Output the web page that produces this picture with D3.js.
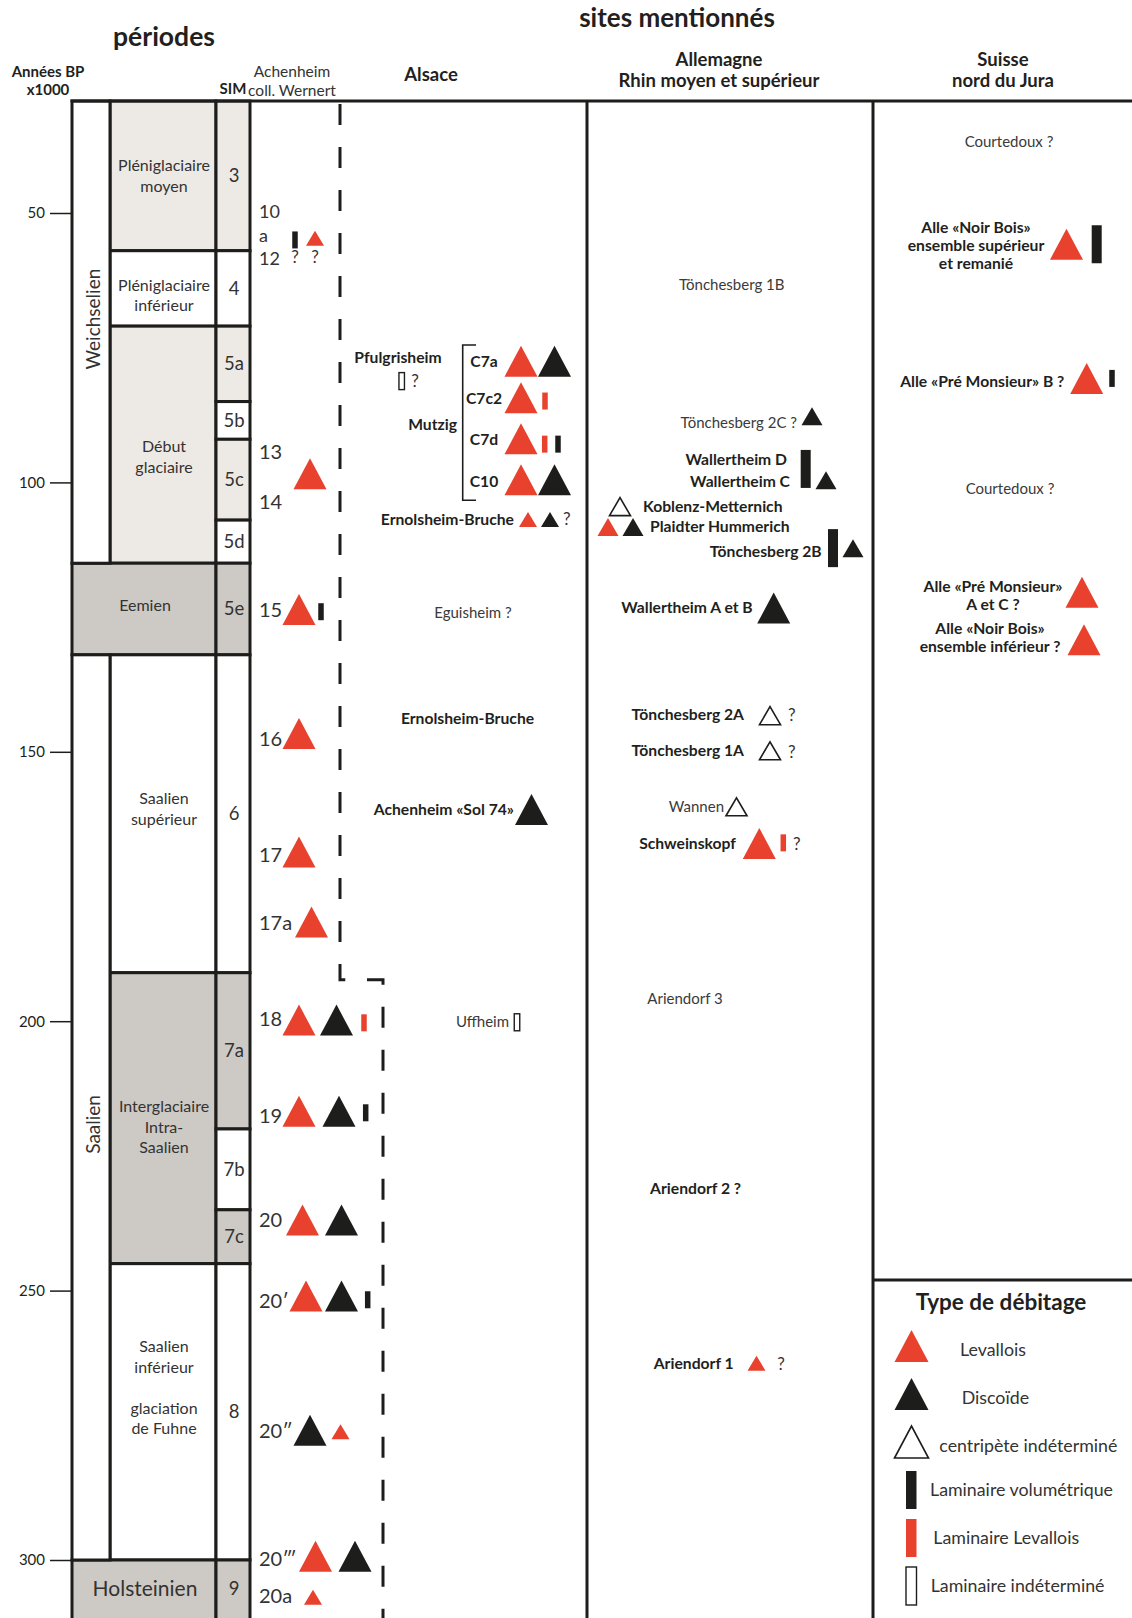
<!DOCTYPE html>
<html>
<head>
<meta charset="utf-8">
<script src="https://cdn.jsdelivr.net/npm/d3@7"></script>
<style>
  body { margin: 0; background: #fff; }
  svg text { font-family: Lato, "Open Sans", sans-serif; fill: #231f20; }
</style>
</head>
<body>
<svg id="chart" width="1132" height="1618"></svg>
<script>
// ---- data (ages in ka BP) ----
const ageTicks = [50, 100, 150, 200, 250, 300];

const stageNames = ['Weichselien', 'Saalien'];
const stageFrom = [20, 132];
const stageTo = [115, 300];

const periodNames = [
  ['Pléniglaciaire', 'moyen'], ['Pléniglaciaire', 'inférieur'], ['Début', 'glaciaire'], ['Eemien'],
  ['Saalien', 'supérieur'], ['Interglaciaire', 'Intra-', 'Saalien'],
  ['Saalien', 'inférieur', '', 'glaciation', 'de Fuhne'], ['Holsteinien']
];
const periodFrom = [20, 57, 71, 115, 132, 191, 245, 300];
const periodTo = [57, 71, 115, 132, 191, 245, 300, 330];
const periodTone = ['light', 'white', 'light', 'dark', 'white', 'dark', 'white', 'dark'];

const simNames = ['3', '4', '5a', '5b', '5c', '5d', '5e', '6', '7a', '7b', '7c', '8', '9'];
const simFrom = [20, 57, 71, 85, 92, 107, 115, 132, 191, 220, 235, 245, 300];
const simTo = [57, 71, 85, 92, 107, 115, 132, 191, 220, 235, 245, 300, 330];
const simTone = ['light', 'white', 'light', 'white', 'light', 'white', 'dark', 'white', 'dark', 'white', 'dark', 'white', 'dark'];

// Achenheim coll. Wernert levels
const levelNames = ['10', 'a', '12', '13', '14', '15', '16', '17', '17a', '18', '19', '20', '20′', '20″', '20‴', '20a'];
const levelAges = [49.8, 54.3, 58.4, 94.3, 103.6, 123.7, 147.7, 169.2, 181.8, 199.5, 217.6, 236.9, 251.9, 276.1, 299.9, 306.7];

// sites
const siteText = [
  'Pfulgrisheim', 'Mutzig', 'C7a', 'C7c2', 'C7d', 'C10', 'Ernolsheim-Bruche', 'Eguisheim ?',
  'Ernolsheim-Bruche', 'Achenheim «Sol 74»', 'Uffheim',
  'Tönchesberg 1B', 'Tönchesberg 2C ?', 'Wallertheim D', 'Wallertheim C', 'Koblenz-Metternich',
  'Plaidter Hummerich', 'Tönchesberg 2B', 'Wallertheim A et B', 'Tönchesberg 2A', 'Tönchesberg 1A',
  'Wannen', 'Schweinskopf', 'Ariendorf 3', 'Ariendorf 2 ?', 'Ariendorf 1',
  'Courtedoux ?', 'Alle «Noir Bois»\nensemble supérieur\net remanié', 'Alle «Pré Monsieur» B ?',
  'Courtedoux ?', 'Alle «Pré Monsieur»\nA et C ?', 'Alle «Noir Bois»\nensemble inférieur ?'
];
const siteAge = [
  76.9, 89.3, 77.5, 84.5, 92.1, 99.9, 106.8, 124.2, 143.9, 160.8, 200.1,
  63.4, 89.0, 95.8, 99.9, 104.5, 108.2, 112.9, 123.3, 143.0, 149.8, 160.2, 167.1, 195.9, 231.0, 263.6,
  36.8, 56.1, 81.3, 101.1, 121.0, 128.7
];
const siteBold = [1, 1, 1, 1, 1, 1, 1, 0, 1, 1, 0, 0, 0, 1, 1, 1, 1, 1, 1, 1, 1, 0, 1, 0, 1, 1, 0, 1, 1, 0, 1, 1];

// débitage marks: lev = Levallois, dis = Discoïde, cen = centripète indéterminé,
// lvol = laminaire volumétrique, llev = laminaire Levallois, lind = laminaire indéterminé
const markType = [
  'lvol', 'lev', '?', '?', 'lev', 'lev', 'lvol', 'lev', 'lev', 'lev', 'lev', 'dis', 'llev',
  'lev', 'dis', 'lvol', 'lev', 'dis', 'lev', 'dis', 'lvol', 'dis', 'lev', 'lev', 'dis', 'lev',
  'lind', '?', 'lev', 'dis', 'lev', 'llev', 'lev', 'llev', 'lvol', 'lev', 'dis', 'lev', 'dis', '?', 'dis', 'lind',
  'dis', 'lvol', 'dis', 'cen', 'lev', 'dis', 'lvol', 'dis', 'dis', 'cen', '?', 'cen', '?', 'cen',
  'lev', 'llev', '?', 'lev', '?',
  'lev', 'lvol', 'lev', 'lvol', 'lev', 'lev'
];
const markAge = [
  55.0, 54.7, 58.1, 58.1, 98.4, 123.6, 124.0, 146.6, 168.6, 181.6, 199.8, 199.8, 200.3,
  216.7, 216.7, 217.0, 236.9, 236.9, 251.0, 251.0, 251.7, 275.9, 276.2, 299.3, 299.3, 306.9,
  81.2, 81.2, 77.5, 77.5, 84.3, 84.9, 91.9, 92.9, 92.9, 99.5, 99.5, 106.9, 106.9, 106.8, 160.7, 200.2,
  87.7, 97.5, 99.6, 104.5, 108.3, 108.3, 112.2, 112.2, 123.3, 143.3, 143.1, 149.8, 150.1, 160.2,
  167.0, 166.9, 167.1, 263.5, 263.6,
  55.8, 55.8, 80.7, 80.7, 120.4, 129.2
];

const legendTypes = ['lev', 'dis', 'cen', 'lvol', 'llev', 'lind'];
const legendLabels = ['Levallois', 'Discoïde', 'centripète indéterminé', 'Laminaire volumétrique', 'Laminaire Levallois', 'Laminaire indéterminé'];

// ---- layout ----
const width = 1132, height = 1618;
const yTop = 101;
const col = { axis: 72, stage: 110, period: 216, sim: 250, dashA: 340, dashB: 383, alsace: 587, allemagne: 873, right: 1132 };
const tone = { light: '#edeae6', dark: '#cdc9c4', white: '#ffffff' };
const red = '#e8412e', ink = '#1d1d1b';

const stageShift = [-13, 17];
const periodShift = [0, 7, 12, -4, -5, 9, -24, 0];
const dashBreak = 192.3; // where the dashed separator steps right
const levelFont = [18, 18, 18, 20, 20, 20, 20, 20, 20, 20, 20, 20, 20, 20, 20, 20];

const siteX = [398, 457, 484, 484, 484, 484, 514, 473, 467.5, 514, 509,
  731.7, 797, 787, 790, 643, 650, 821.7, 752.7, 744, 744, 724, 736, 685, 695.6, 733.7,
  1009, 976, 1064.3, 1010, 993, 990];
const siteAnchor = ['middle', 'end', 'middle', 'middle', 'middle', 'middle', 'end', 'middle', 'middle', 'end', 'end',
  'middle', 'end', 'end', 'end', 'start', 'start', 'end', 'end', 'end', 'end', 'end', 'end', 'middle', 'middle', 'end',
  'middle', 'middle', 'end', 'middle', 'middle', 'middle'];

const markX = [
  295, 315, 295, 315, 310, 299, 321, 299, 299, 311.5, 299, 336.5, 364,
  299, 339, 365.7, 302.5, 341.5, 306, 341.5, 367.7, 310, 340.5, 315.5, 355, 313,
  401.7, 415, 521, 554.5, 521, 545, 521, 544.7, 558, 521, 554.5, 528, 550, 566.7, 531.5, 517,
  812, 805.7, 826, 620, 608, 633, 833, 853, 773.7, 770, 791.7, 770, 791.7, 736.5,
  759.3, 783.3, 796.7, 756.5, 781,
  1066.5, 1096.7, 1086.7, 1112, 1082, 1084
];
const markSize = [
  's', 'S', '', '', 'L', 'L', 's', 'L', 'L', 'L', 'L', 'L', 's',
  'L', 'L', 's', 'L', 'L', 'L', 'L', 's', 'L', 'S', 'L', 'L', 'S',
  's', '', 'L', 'L', 'L', 's', 'L', 's', 's', 'L', 'L', 'S', 'S', '', 'L', 's',
  'M', 'l', 'M', 'M', 'M', 'M', 'l', 'M', 'L', 'M', '', 'M', '', 'M',
  'L', 's', '', 'S', '',
  'L', 'l', 'L', 's', 'L', 'L'
];
const triSize = { L: [33, 31], M: [21, 18], S: [18, 15] };
const barSize = { s: [5.5, 17], l: [10, 38] };

const y = d3.scaleLinear().domain([50, 300]).range([213, 1560]);
const yc = v => Math.max(yTop, Math.min(height + 4, y(v)));

const svg = d3.select('#chart');

function drawMark(sel, type, cx, cy, size) {
  if (type === '?') {
    sel.append('text').attr('x', cx).attr('y', cy).attr('dy', '0.35em')
      .attr('text-anchor', 'middle').style('font-size', '17px').style('fill', '#333').text('?');
    return;
  }
  if (type === 'lev' || type === 'dis' || type === 'cen') {
    const [w, h] = triSize[size];
    sel.append('path')
      .attr('d', `M${cx - w / 2},${cy + h / 2}L${cx},${cy - h / 2}L${cx + w / 2},${cy + h / 2}Z`)
      .attr('fill', type === 'lev' ? red : type === 'dis' ? ink : '#fff')
      .attr('stroke', type === 'cen' ? ink : 'none')
      .attr('stroke-width', 1.6)
      .attr('stroke-linejoin', 'miter');
    return;
  }
  const [w, h] = barSize[size];
  sel.append('rect')
    .attr('x', cx - w / 2).attr('y', cy - h / 2).attr('width', w).attr('height', h)
    .attr('fill', type === 'lvol' ? ink : type === 'llev' ? red : '#fff')
    .attr('stroke', type === 'lind' ? ink : 'none')
    .attr('stroke-width', 1.4);
}

function multiline(sel, lines, x, cy, size, weight, anchor, lh) {
  const t = sel.append('text').attr('text-anchor', anchor)
    .style('font-size', size + 'px').style('font-weight', weight);
  const y0 = cy - (lines.length - 1) * lh / 2;
  lines.forEach((ln, i) => {
    t.append('tspan').attr('x', x).attr('y', y0 + i * lh).attr('dy', '0.35em').text(ln);
  });
  return t;
}

// ---- time columns ----
const periods = periodNames.map((n, i) => ({
  lines: n, from: periodFrom[i], to: periodTo[i], tone: periodTone[i],
  wide: !stageFrom.some((f, k) => periodFrom[i] >= f && periodTo[i] <= stageTo[k])
}));

svg.append('g').selectAll('rect').data(periods).join('rect')
  .attr('x', d => d.wide ? col.axis : col.stage)
  .attr('y', d => yc(d.from))
  .attr('width', d => col.period - (d.wide ? col.axis : col.stage))
  .attr('height', d => yc(d.to) - yc(d.from))
  .attr('fill', d => tone[d.tone]).attr('stroke', ink).attr('stroke-width', 3);

const sims = simNames.map((n, i) => ({ name: n, from: simFrom[i], to: simTo[i], tone: simTone[i] }));
svg.append('g').selectAll('rect').data(sims).join('rect')
  .attr('x', col.period).attr('y', d => yc(d.from))
  .attr('width', col.sim - col.period).attr('height', d => yc(d.to) - yc(d.from))
  .attr('fill', d => tone[d.tone]).attr('stroke', ink).attr('stroke-width', 3);

svg.append('g').selectAll('rect').data(stageNames).join('rect')
  .attr('x', col.axis).attr('y', (d, i) => yc(stageFrom[i]))
  .attr('width', col.stage - col.axis).attr('height', (d, i) => yc(stageTo[i]) - yc(stageFrom[i]))
  .attr('fill', '#fff').attr('stroke', ink).attr('stroke-width', 3);

stageNames.forEach((n, i) => {
  const cy = (yc(stageFrom[i]) + yc(stageTo[i])) / 2 + stageShift[i];
  svg.append('text').attr('transform', `translate(${col.axis + 21},${cy}) rotate(-90)`)
    .attr('text-anchor', 'middle').attr('dy', '0.35em')
    .style('font-size', '19px').style('fill', '#333').text(n);
});

periods.forEach((p, i) => {
  const x0 = p.wide ? col.axis : col.stage;
  const cy = (yc(p.from) + Math.min(yc(p.to), height)) / 2 + periodShift[i];
  multiline(svg, p.lines, (x0 + col.period) / 2 + 1, cy, p.wide && i === 7 ? 21 : 16, 400, 'middle', 20.5)
    .style('fill', '#333');
});

sims.forEach(s => {
  const cy = (yc(s.from) + Math.min(yc(s.to), height)) / 2;
  svg.append('text').attr('x', (col.period + col.sim) / 2 + 1).attr('y', cy).attr('dy', '0.35em')
    .attr('text-anchor', 'middle').style('font-size', '18.5px').style('fill', '#333').text(s.name);
});

// axis
const axis = svg.append('g').attr('transform', `translate(${col.axis},0)`)
  .call(d3.axisLeft(y).tickValues(ageTicks).tickSize(22).tickPadding(5));
axis.select('.domain').remove();
axis.selectAll('.tick line').attr('stroke', ink).attr('stroke-width', 1.5);
axis.selectAll('.tick text').style('font-size', '15px').style('font-family', 'Lato, sans-serif').attr('fill', '#333');

// frame lines
const frame = svg.append('g').attr('stroke', ink).attr('stroke-width', 3).attr('fill', 'none');
frame.append('line').attr('x1', col.axis - 1.5).attr('x2', width).attr('y1', yTop).attr('y2', yTop);
[col.alsace, col.allemagne].forEach(x => frame.append('line').attr('x1', x).attr('x2', x).attr('y1', yTop).attr('y2', height));
frame.append('line').attr('x1', col.allemagne).attr('x2', width).attr('y1', 1280).attr('y2', 1280);

// dashed separator Achenheim / Alsace
const dash = svg.append('g').attr('stroke', ink).attr('stroke-width', 3).attr('fill', 'none')
  .attr('stroke-dasharray', '21 22');
dash.append('path').attr('stroke-dashoffset', -3)
  .attr('d', `M${col.dashA},${yTop}V${y(dashBreak)}H${col.dashA + 8}`);
dash.append('path').attr('d', `M${col.dashA + 27},${y(dashBreak)}H${col.dashB}V${height}`);

// Achenheim levels
svg.append('g').selectAll('text').data(levelNames).join('text')
  .attr('x', 259).attr('y', (d, i) => y(levelAges[i])).attr('dy', '0.35em')
  .style('font-size', (d, i) => levelFont[i] + 'px').style('fill', '#333').text(d => d);

// Mutzig bracket
svg.append('path')
  .attr('d', `M476,${y(74.5)}H462.7V${y(103.3)}H476`)
  .attr('fill', 'none').attr('stroke', ink).attr('stroke-width', 1.6);

// site labels
siteText.forEach((t, i) => {
  const lines = t.split('\n');
  multiline(svg, lines, siteX[i], y(siteAge[i]), siteBold[i] ? 15.7 : 15, siteBold[i] ? 700 : 400, siteAnchor[i], 18)
    .style('fill', siteBold[i] ? '#231f20' : '#3a3a3a');
});

// marks
const marks = svg.append('g');
markType.forEach((t, i) => drawMark(marks, t, markX[i], y(markAge[i]), markSize[i]));

// legend
const ly = d3.scalePoint().domain(legendTypes).range([1346, 1586]);
const legendTextX = [960, 961.7, 939.3, 930, 933.3, 930.7];
const legend = svg.append('g');
legend.append('text').attr('x', 1001).attr('y', 1302).attr('dy', '0.35em').attr('text-anchor', 'middle')
  .style('font-size', '22.5px').style('font-weight', 700).text('Type de débitage');
legendTypes.forEach((t, i) => {
  const isTri = i < 3;
  if (isTri) {
    const [w, h] = [34, 32];
    legend.append('path')
      .attr('d', `M${911.5 - w / 2},${ly(t) + h / 2}L911.5,${ly(t) - h / 2}L${911.5 + w / 2},${ly(t) + h / 2}Z`)
      .attr('fill', t === 'lev' ? red : t === 'dis' ? ink : '#fff')
      .attr('stroke', t === 'cen' ? ink : 'none').attr('stroke-width', 1.6);
  } else {
    legend.append('rect').attr('x', 906).attr('y', ly(t) - 19).attr('width', 10.5).attr('height', 38)
      .attr('fill', t === 'lvol' ? ink : t === 'llev' ? red : '#fff')
      .attr('stroke', t === 'lind' ? ink : 'none').attr('stroke-width', 1.4);
  }
  legend.append('text').attr('x', legendTextX[i]).attr('y', ly(t) + (isTri ? 4 : 0)).attr('dy', '0.35em')
    .style('font-size', '17.8px').style('fill', '#333').text(legendLabels[i]);
});

// headers
const head = svg.append('g');
head.append('text').attr('x', 164).attr('y', 46).attr('text-anchor', 'middle')
  .style('font-size', '26.5px').style('font-weight', 700).text('périodes');
head.append('text').attr('x', 677).attr('y', 27).attr('text-anchor', 'middle')
  .style('font-size', '26px').style('font-weight', 700).text('sites mentionnés');
multiline(head, ['Années BP', 'x1000'], 48, 80.5, 15, 700, 'middle', 17.5);
multiline(head, ['SIM'], 233, 89, 15, 700, 'middle', 17);
multiline(head, ['Achenheim', 'coll. Wernert'], 292, 81.5, 15.5, 400, 'middle', 19).style('fill', '#333');
multiline(head, ['Alsace'], 431, 74.5, 18.5, 700, 'middle', 21);
multiline(head, ['Allemagne', 'Rhin moyen et supérieur'], 719, 70, 18.5, 700, 'middle', 21);
multiline(head, ['Suisse', 'nord du Jura'], 1003, 70, 18.5, 700, 'middle', 21);
</script>
</body>
</html>
